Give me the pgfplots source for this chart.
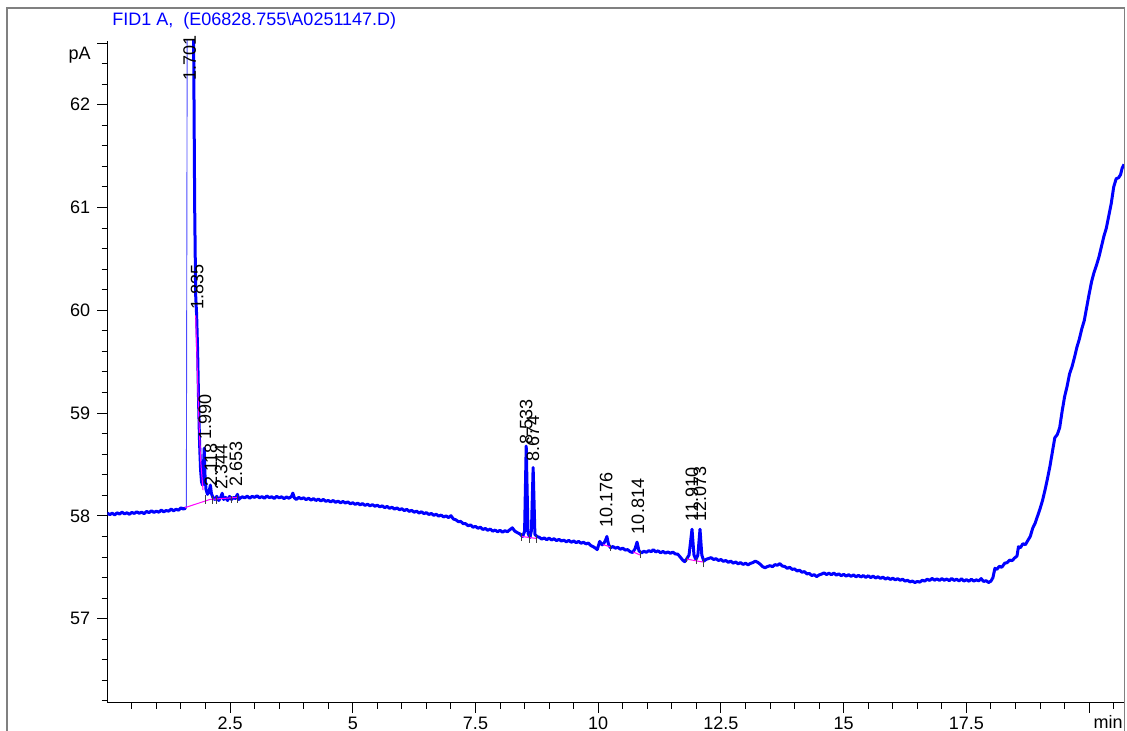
\documentclass[border=0pt]{standalone}
\usepackage{fontspec}
\setmainfont{Liberation Sans}
\usepackage{pgfplots}
\pgfplotsset{compat=1.18}
\definecolor{trace}{RGB}{0,0,255}
\definecolor{intg}{RGB}{255,0,255}
\definecolor{framegray}{RGB}{128,128,128}
\begin{document}
\begin{tikzpicture}
\path[use as bounding box] (0,0) rectangle (563.5pt,365.5pt);
\draw[framegray, line width=0.9pt] (3.5pt,-2pt) -- (3.5pt,361.5pt) -- (562.2pt,361.5pt) -- (562.2pt,-2pt);
\begin{axis}[
  at={(53.65pt,14pt)}, anchor=south west,
  scale only axis, width=508.35pt, height=331pt,
  xmin=0, xmax=20.71, ymin=56.18, ymax=62.62,
  axis x line=bottom, axis y line=left,
  axis line style={-, line width=0.5pt, black},
  tick align=outside,
  xtick={2.5,5,7.5,10,12.5,15,17.5,20},
  xticklabels={2.5,5,7.5,10,12.5,15,17.5,},
  minor xtick={0.5,1,...,20.5},
  ytick={57,58,59,60,61,62,62.6},
  yticklabels={57,58,59,60,61,62,},
  minor ytick={56.2,56.4,...,62.5},
  major tick length=5pt, minor tick length=2.8pt,
  tick style={black, line width=0.5pt},
  ticklabel style={font=\fontsize{9}{11}\selectfont},
  xticklabel style={yshift=1.4pt},
  /pgf/number format/assume math mode=true,
  clip mode=individual,
]
% baseline before the solvent peak
\addplot[trace, line width=1.5pt, line join=round] coordinates {
(0.00,58.028) (0.05,58.012) (0.10,58.026) (0.15,58.010) (0.20,58.030) (0.25,58.018)
(0.30,58.036) (0.35,58.020) (0.40,58.030) (0.45,58.016) (0.50,58.034) (0.55,58.024)
(0.60,58.040) (0.65,58.026) (0.70,58.036) (0.75,58.022) (0.80,58.044) (0.85,58.032)
(0.90,58.050) (0.95,58.034) (1.00,58.046) (1.05,58.036) (1.10,58.056) (1.15,58.040)
(1.20,58.052) (1.25,58.046) (1.30,58.066) (1.35,58.050) (1.40,58.064) (1.45,58.056)
(1.50,58.078) (1.55,58.066) (1.58,58.076) (1.61,58.07)
};
% rising edge of solvent peak
\addplot[trace!70, line width=0.45pt] coordinates {(1.61,58.07) (1.64,66)};
% rest of the trace
\addplot[trace, line width=1.5pt, line join=round] coordinates {
(1.73,66) (1.76,62.5) (1.78,61.0) (1.80,60.15) (1.82,59.95) (1.84,59.6) (1.86,59.1)
(1.88,58.7) (1.90,58.45) (1.92,58.33) (1.94,58.30) (1.96,58.5) (1.975,58.66) (1.99,58.40)
(2.01,58.26) (2.04,58.21) (2.07,58.23) (2.10,58.30) (2.12,58.22) (2.15,58.18) (2.19,58.16)
(2.23,58.19) (2.27,58.15) (2.31,58.18) (2.34,58.22) (2.37,58.16) (2.41,58.18) (2.45,58.15)
(2.49,58.19) (2.53,58.16) (2.57,58.18) (2.61,58.17) (2.65,58.21) (2.68,58.16)
(2.70,58.170) (2.75,58.186) (2.80,58.176) (2.85,58.192) (2.90,58.172) (2.95,58.190)
(3.00,58.180) (3.05,58.196) (3.10,58.176) (3.15,58.188) (3.20,58.172) (3.25,58.194)
(3.30,58.178) (3.35,58.186) (3.40,58.170) (3.45,58.190) (3.50,58.176) (3.55,58.186)
(3.60,58.168) (3.65,58.184) (3.70,58.172) (3.75,58.188) (3.78,58.222) (3.81,58.176)
(3.85,58.160) (3.90,58.180) (3.95,58.166) (4.00,58.176) (4.05,58.158) (4.10,58.172)
(4.15,58.154) (4.20,58.168) (4.25,58.150) (4.30,58.164) (4.35,58.146) (4.40,58.160)
(4.45,58.142) (4.50,58.150) (4.55,58.136) (4.60,58.150) (4.65,58.132) (4.70,58.144)
(4.75,58.128) (4.80,58.140) (4.85,58.126) (4.90,58.136) (4.95,58.118) (5.00,58.128)
(5.05,58.112) (5.10,58.124) (5.15,58.108) (5.20,58.120) (5.25,58.102) (5.30,58.114)
(5.35,58.098) (5.40,58.110) (5.45,58.094) (5.50,58.104) (5.55,58.088) (5.60,58.098)
(5.65,58.080) (5.70,58.092) (5.75,58.074) (5.80,58.084) (5.85,58.066) (5.90,58.078)
(5.95,58.060) (6.00,58.070) (6.05,58.052) (6.10,58.064) (6.15,58.044) (6.20,58.054)
(6.25,58.036) (6.30,58.046) (6.35,58.028) (6.40,58.040) (6.45,58.022) (6.50,58.032)
(6.55,58.014) (6.60,58.024) (6.65,58.006) (6.70,58.016) (6.75,57.998) (6.80,58.008)
(6.85,57.990) (6.90,58.000) (6.95,57.984) (7.00,58.002) (7.05,57.970) (7.10,57.962)
(7.15,57.944) (7.20,57.946) (7.25,57.924) (7.30,57.924) (7.35,57.904) (7.40,57.912)
(7.45,57.890) (7.50,57.898) (7.55,57.880) (7.60,57.890) (7.65,57.868) (7.70,57.878)
(7.75,57.860) (7.80,57.872) (7.85,57.852) (7.90,57.862) (7.95,57.846) (8.00,57.860)
(8.05,57.842) (8.10,57.856) (8.15,57.846) (8.20,57.866) (8.25,57.884) (8.30,57.852)
(8.35,57.838) (8.40,57.826) (8.46,57.80) (8.50,57.85) (8.533,58.68) (8.57,57.83)
(8.61,57.79) (8.64,57.86) (8.674,58.47) (8.71,57.82) (8.75,57.80)
(8.80,57.792) (8.85,57.774) (8.90,57.786) (8.95,57.768) (9.00,57.784) (9.05,57.766)
(9.10,57.778) (9.15,57.760) (9.20,57.772) (9.25,57.756) (9.30,57.764) (9.35,57.748)
(9.40,57.762) (9.45,57.744) (9.50,57.756) (9.55,57.740) (9.60,57.752) (9.65,57.734)
(9.70,57.744) (9.75,57.728) (9.80,57.736) (9.85,57.712) (9.90,57.700) (9.95,57.684)
(9.98,57.672) (10.03,57.752) (10.08,57.718) (10.12,57.738) (10.15,57.764) (10.176,57.800)
(10.21,57.722) (10.25,57.690) (10.30,57.702) (10.35,57.686) (10.40,57.694) (10.45,57.676)
(10.50,57.686) (10.55,57.668) (10.60,57.672) (10.65,57.652) (10.70,57.644) (10.75,57.680)
(10.79,57.745) (10.83,57.660) (10.88,57.640) (10.93,57.656) (10.98,57.646) (11.03,57.662)
(11.08,57.652) (11.12,57.672) (11.17,57.650) (11.22,57.660) (11.27,57.642) (11.32,57.654)
(11.37,57.638) (11.42,57.650) (11.47,57.636) (11.52,57.648) (11.57,57.630) (11.62,57.628)
(11.67,57.600) (11.72,57.570) (11.76,57.555) (11.80,57.580) (11.85,57.62)
(11.91,57.87) (11.95,57.62) (11.99,57.575) (12.03,57.62) (12.073,57.87) (12.11,57.62)
(12.15,57.560) (12.20,57.578) (12.25,57.586) (12.30,57.594) (12.35,57.576) (12.40,57.584)
(12.45,57.566) (12.50,57.576) (12.55,57.558) (12.60,57.566) (12.65,57.548) (12.70,57.560)
(12.75,57.540) (12.80,57.552) (12.85,57.534) (12.90,57.546) (12.95,57.528) (13.00,57.540)
(13.05,57.524) (13.10,57.538) (13.15,57.546) (13.20,57.560) (13.25,57.548) (13.30,57.530)
(13.35,57.506) (13.40,57.496) (13.45,57.508) (13.50,57.516) (13.55,57.506) (13.60,57.526)
(13.65,57.520) (13.70,57.536) (13.75,57.512) (13.80,57.508) (13.85,57.490) (13.90,57.500)
(13.95,57.480) (14.00,57.484) (14.05,57.464) (14.10,57.472) (14.15,57.452) (14.20,57.458)
(14.25,57.436) (14.30,57.440) (14.35,57.420) (14.40,57.428) (14.45,57.410) (14.50,57.426)
(14.55,57.434) (14.60,57.446) (14.65,57.430) (14.70,57.442) (14.75,57.428) (14.80,57.444)
(14.85,57.424) (14.90,57.436) (14.95,57.418) (15.00,57.432) (15.05,57.414) (15.10,57.428)
(15.15,57.412) (15.20,57.426) (15.25,57.408) (15.30,57.422) (15.35,57.406) (15.40,57.420)
(15.45,57.402) (15.50,57.418) (15.55,57.400) (15.60,57.414) (15.65,57.396) (15.70,57.408)
(15.75,57.392) (15.80,57.404) (15.85,57.386) (15.90,57.398) (15.95,57.382) (16.00,57.394)
(16.05,57.378) (16.10,57.390) (16.15,57.374) (16.20,57.384) (16.25,57.366) (16.30,57.374)
(16.35,57.358) (16.40,57.366) (16.45,57.352) (16.50,57.362) (16.55,57.356) (16.60,57.374)
(16.65,57.366) (16.70,57.384) (16.75,57.372) (16.80,57.392) (16.85,57.374) (16.90,57.388)
(16.95,57.372) (17.00,57.390) (17.05,57.374) (17.10,57.386) (17.15,57.370) (17.20,57.392)
(17.25,57.372) (17.30,57.384) (17.35,57.368) (17.40,57.388) (17.45,57.366) (17.50,57.380)
(17.55,57.364) (17.60,57.384) (17.65,57.366) (17.70,57.378) (17.75,57.368) (17.80,57.390)
(17.85,57.362) (17.90,57.370) (17.95,57.352) (18.00,57.366)
(18.04,57.40) (18.08,57.49) (18.12,57.48) (18.17,57.51) (18.22,57.50) (18.28,57.54)
(18.33,57.545) (18.38,57.57) (18.43,57.565) (18.48,57.59) (18.53,57.61) (18.56,57.70)
(18.60,57.69) (18.65,57.73) (18.70,57.72) (18.75,57.76) (18.80,57.80) (18.85,57.88)
(18.90,57.93) (18.95,58.00) (19.00,58.07) (19.05,58.15) (19.10,58.25) (19.15,58.36)
(19.20,58.48) (19.25,58.62) (19.30,58.76) (19.35,58.79) (19.40,58.86) (19.45,59.02)
(19.50,59.16) (19.55,59.26) (19.60,59.38) (19.65,59.45) (19.70,59.54) (19.75,59.64)
(19.80,59.72) (19.85,59.82) (19.90,59.90) (19.95,60.03) (20.00,60.16) (20.05,60.28)
(20.10,60.37) (20.15,60.44) (20.20,60.52) (20.25,60.62) (20.30,60.72) (20.35,60.80)
(20.40,60.92) (20.45,61.04) (20.50,61.20) (20.55,61.28) (20.60,61.29) (20.64,61.32)
(20.67,61.38) (20.71,61.42)
};
% integration baselines
\addplot[intg, line width=0.5pt] coordinates {(1.58,58.08) (2.09,58.16) (2.64,58.18)};
\addplot[intg, line width=0.5pt] coordinates {(1.80,59.95) (1.86,59.0) (1.90,58.55) (1.95,58.25)};
\addplot[intg, line width=0.5pt] coordinates {(8.44,57.80) (8.75,57.78)};
\addplot[intg, line width=0.5pt] coordinates {(10.10,57.72) (10.24,57.70)};
\addplot[intg, line width=0.5pt] coordinates {(10.71,57.65) (10.85,57.62)};
\addplot[intg, line width=0.5pt] coordinates {(11.80,57.58) (12.15,57.55)};
% peak start/stop markers
\addplot[black!75, line width=0.4pt, unbounded coords=jump] coordinates {
(8.44,57.76)(8.44,57.83) (nan,nan) (8.60,57.74)(8.60,57.82) (nan,nan) (8.75,57.74)(8.75,57.81) (nan,nan)
(10.24,57.66)(10.24,57.72) (nan,nan) (10.85,57.59)(10.85,57.66) (nan,nan) (11.80,57.55)(11.80,57.60) (nan,nan)
(11.99,57.53)(11.99,57.59) (nan,nan) (12.15,57.50)(12.15,57.58) (nan,nan) (2.00,58.12)(2.00,58.20) (nan,nan)
(2.15,58.12)(2.15,58.19) (nan,nan) (2.22,58.12)(2.22,58.19) (nan,nan) (2.52,58.13)(2.52,58.19) (nan,nan)
(2.64,58.13)(2.64,58.20)
};
% peak labels
\begin{scope}[every node/.style={rotate=90, anchor=west, inner sep=0pt, font=\fontsize{9}{11}\selectfont}]
\node at (axis cs:1.68,62.23) {1.701};
\node at (axis cs:1.83,60.0) {1.835};
\node at (axis cs:1.99,58.74) {1.990};
\node at (axis cs:2.11,58.28) {2.118};
\node at (axis cs:2.32,58.25) {2.344};
\node at (axis cs:2.62,58.28) {2.653};
\node at (axis cs:8.53,58.69) {8.533};
\node at (axis cs:8.67,58.53) {8.674};
\node at (axis cs:10.16,57.88) {10.176};
\node at (axis cs:10.81,57.82) {10.814};
\node at (axis cs:11.91,57.94) {11.910};
\node at (axis cs:12.07,57.94) {12.073};
\end{scope}
\end{axis}
\node[anchor=base west, text=trace, inner sep=0pt, font=\fontsize{9}{11}\selectfont] at (56pt,352.5pt) {FID1 A,\ \ (E06828.755\textbackslash A0251147.D)};
\node[anchor=base east, inner sep=0pt, font=\fontsize{9}{11}\selectfont] at (45.5pt,335.5pt) {pA};
\node[anchor=base east, inner sep=0pt, font=\fontsize{9}{11}\selectfont] at (561.5pt,1.4pt) {min};
\end{tikzpicture}
\end{document}
